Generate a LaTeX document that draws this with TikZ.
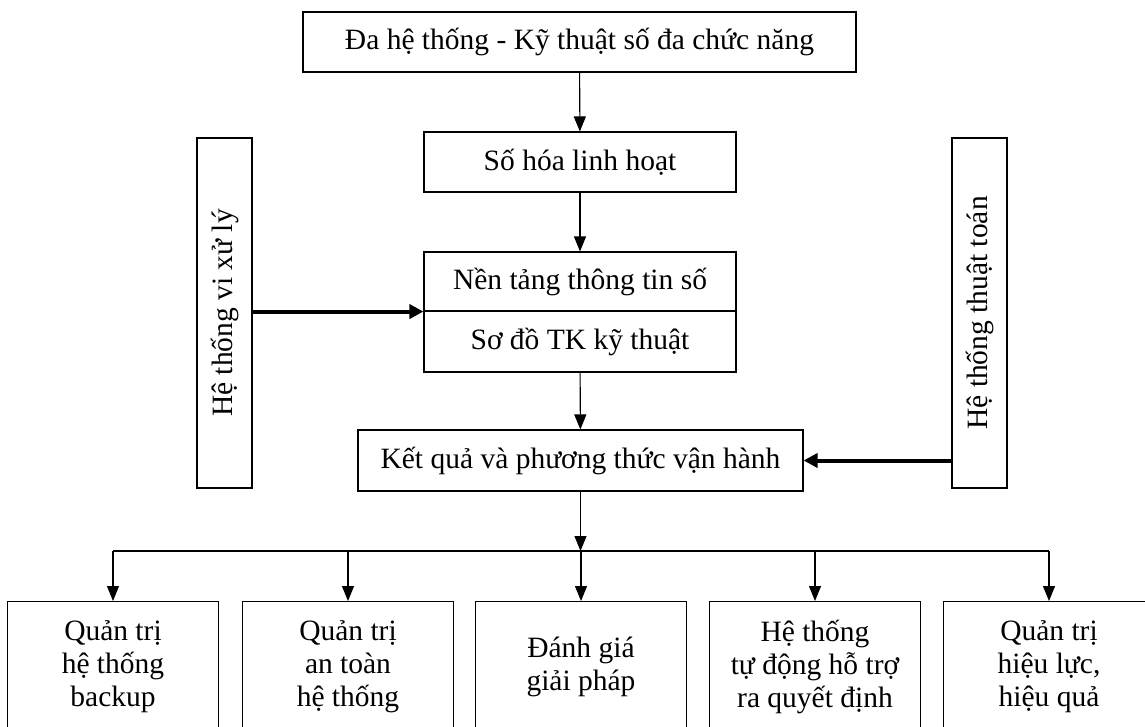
\documentclass[tikz,border=0pt]{standalone}
\usepackage{fontspec}
\setmainfont{Liberation Serif}
\usetikzlibrary{arrows.meta}

\tikzset{
  hop/.style={draw, line width=1.1pt, align=center, inner sep=0pt,
    font=\fontsize{29.5}{33}\selectfont},
  sidehop/.style={hop, rotate=90, minimum width=350pt, minimum height=55pt},
  arr/.style={line width=1.1pt, -{Triangle[length=15pt,width=12pt]}},
  bigarr/.style={line width=4pt, -{Triangle[length=14pt,width=14pt]}}
}

\begin{document}
\begin{tikzpicture}[x=1pt,y=-1pt]
\clip (0,0) rectangle (1145,726);

\node[hop, minimum width=553pt, minimum height=60pt] (dahethong) at (579.5,42) {Đa hệ thống - Kỹ thuật số đa chức năng};
\node[hop, minimum width=312pt, minimum height=60pt] (sohoa) at (580,162) {Số hóa linh hoạt};
\node[hop, minimum width=312pt, minimum height=59pt] (nentang) at (580,281.5) {Nền tảng thông tin số};
\node[hop, minimum width=312pt, minimum height=61pt] (sodo) at (580,341.5) {Sơ đồ TK kỹ thuật};
\node[hop, minimum width=445pt, minimum height=61pt] (ketqua) at (580.5,460.5) {Kết quả và phương thức vận hành};

\node[sidehop] (vixuly) at (224.5,313) {Hệ thống vi xử lý};
\node[sidehop] (thuattoan) at (979.5,313) {Hệ thống thuật toán};

\coordinate (bar) at (580.5,551);

\draw[arr] (dahethong) -- (sohoa);
\draw[arr] (sohoa) -- (nentang);
\draw[arr] (sodo) -- (ketqua);
\draw[bigarr] (vixuly.south |- nentang.south west) -- (nentang.south west);
\draw[bigarr] (thuattoan.north |- ketqua.east) -- (ketqua.east);
\draw[arr] (ketqua) -- (bar);

\foreach \x/\A [count=\i] in {{113/Quản trị\\hệ thống\\backup}, {348/Quản trị\\an toàn\\hệ thống}, {581/Đánh giá\\giải pháp}, {815/Hệ thống\\tự động hỗ trợ\\ra quyết định}, {1049/Quản trị\\hiệu lực,\\hiệu quả}} {%
    \node[hop, anchor=north, minimum width=211pt, minimum height=130pt] (b\i) at (\x,601) {\A};
    \draw[arr] (bar -| b\i.north) -- (b\i.north);
}
\draw[line width=1.1pt] (bar -| b1.north) -- (bar -| b5.north);
\end{tikzpicture}
\end{document}
